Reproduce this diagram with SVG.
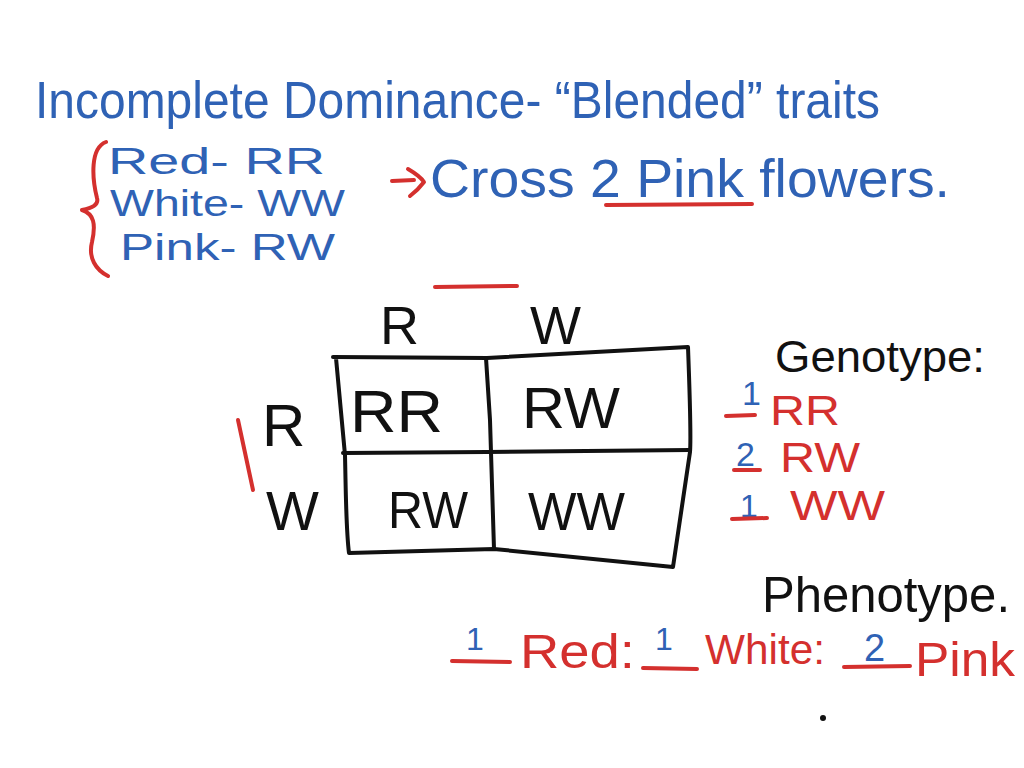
<svg xmlns="http://www.w3.org/2000/svg" width="1024" height="768" viewBox="0 0 1024 768">
<style>
text{font-family:"Liberation Sans","Arial",sans-serif;}
.b{fill:#2f62b5;}
.r{fill:#d4302e;}
.k{fill:#111;}
.sr{stroke:#d4302e;stroke-width:4;fill:none;stroke-linecap:round;stroke-linejoin:round;}
.sk{stroke:#111;stroke-width:4;fill:none;stroke-linecap:round;stroke-linejoin:round;}
</style>
<rect width="1024" height="768" fill="#fff"/>
<g id="title">
<text class="b" x="35" y="118" font-size="52" textLength="845" lengthAdjust="spacingAndGlyphs">Incomplete Dominance- “Blended” traits</text>
</g>
<g id="key">
<path class="sr" d="M106,142 C90,148 92,178 97,198 C99,205 92,208 82,210 C94,214 96,224 92,242 C88,258 96,270 108,276"/>
<text class="b" font-size="37"><tspan x="108" y="174" textLength="217" lengthAdjust="spacingAndGlyphs">Red- RR</tspan><tspan x="110" y="216" textLength="235" lengthAdjust="spacingAndGlyphs">White- WW</tspan><tspan x="120" y="260" textLength="215" lengthAdjust="spacingAndGlyphs">Pink- RW</tspan></text>
</g>
<g id="cross">
<path class="sr" d="M392,181 L414,180 M408,169 Q420,176 424,182 Q418,190 410,196"/>
<text class="b" x="430" y="197" font-size="54" textLength="520" lengthAdjust="spacingAndGlyphs">Cross 2 Pink flowers.</text>
<path class="sr" d="M606,205 L752,204"/>
</g>
<g id="punnett">
<path class="sr" d="M435,287 L517,286"/>
<path class="sr" d="M238,420 L253,490"/>
<text class="k" x="380" y="344" font-size="54">R</text>
<text class="k" x="530" y="344" font-size="54">W</text>
<text class="k" x="262" y="446" font-size="60">R</text>
<text class="k" x="266" y="530" font-size="56">W</text>
<path class="sk" d="M333,357 L487,358 L688,347 C690,400 691,440 690,452 L673,567 L494,549 L349,553 C346,530 346,500 345,455 L336,358"/>
<path class="sk" d="M343,453 L487,452 L690,450"/>
<path class="sk" d="M486,358 L490,420 L494,549"/>
<text class="k" x="350" y="432" font-size="60" textLength="93" lengthAdjust="spacingAndGlyphs">RR</text>
<text class="k" x="522" y="428" font-size="58" textLength="98" lengthAdjust="spacingAndGlyphs">RW</text>
<text class="k" x="388" y="528" font-size="52" textLength="80" lengthAdjust="spacingAndGlyphs">RW</text>
<text class="k" x="528" y="530" font-size="54" textLength="97" lengthAdjust="spacingAndGlyphs">WW</text>
</g>
<g id="genotype">
<text class="k" x="775" y="372" font-size="44" textLength="210" lengthAdjust="spacingAndGlyphs">Genotype:</text>
<text class="b" x="742" y="405" font-size="34">1</text>
<path class="sr" d="M726,416 L755,415"/>
<text class="r" x="770" y="425" font-size="42" textLength="70" lengthAdjust="spacingAndGlyphs">RR</text>
<text class="b" x="736" y="466" font-size="34">2</text>
<path class="sr" d="M734,470 L760,470"/>
<text class="r" x="780" y="472" font-size="42" textLength="80" lengthAdjust="spacingAndGlyphs">RW</text>
<text class="b" x="740" y="517" font-size="32">1</text>
<path class="sr" d="M732,519 L767,518"/>
<text class="r" x="790" y="520" font-size="42" textLength="95" lengthAdjust="spacingAndGlyphs">WW</text>
</g>
<g id="phenotype">
<text class="k" x="762" y="612" font-size="50" textLength="248" lengthAdjust="spacingAndGlyphs">Phenotype.</text>
<text class="b" x="466" y="650" font-size="32">1</text>
<path class="sr" d="M452,661 L510,662"/>
<text class="r" x="520" y="668" font-size="48" textLength="115" lengthAdjust="spacingAndGlyphs">Red:</text>
<text class="b" x="655" y="650" font-size="32">1</text>
<path class="sr" d="M643,668 L697,669"/>
<text class="r" x="705" y="664" font-size="42" textLength="120" lengthAdjust="spacingAndGlyphs">White:</text>
<text class="b" x="864" y="661" font-size="38">2</text>
<path class="sr" d="M844,667 L910,666"/>
<text class="r" x="915" y="676" font-size="48" textLength="100" lengthAdjust="spacingAndGlyphs">Pink</text>
<circle cx="823" cy="718" r="3" fill="#111"/>
</g>
</svg>
